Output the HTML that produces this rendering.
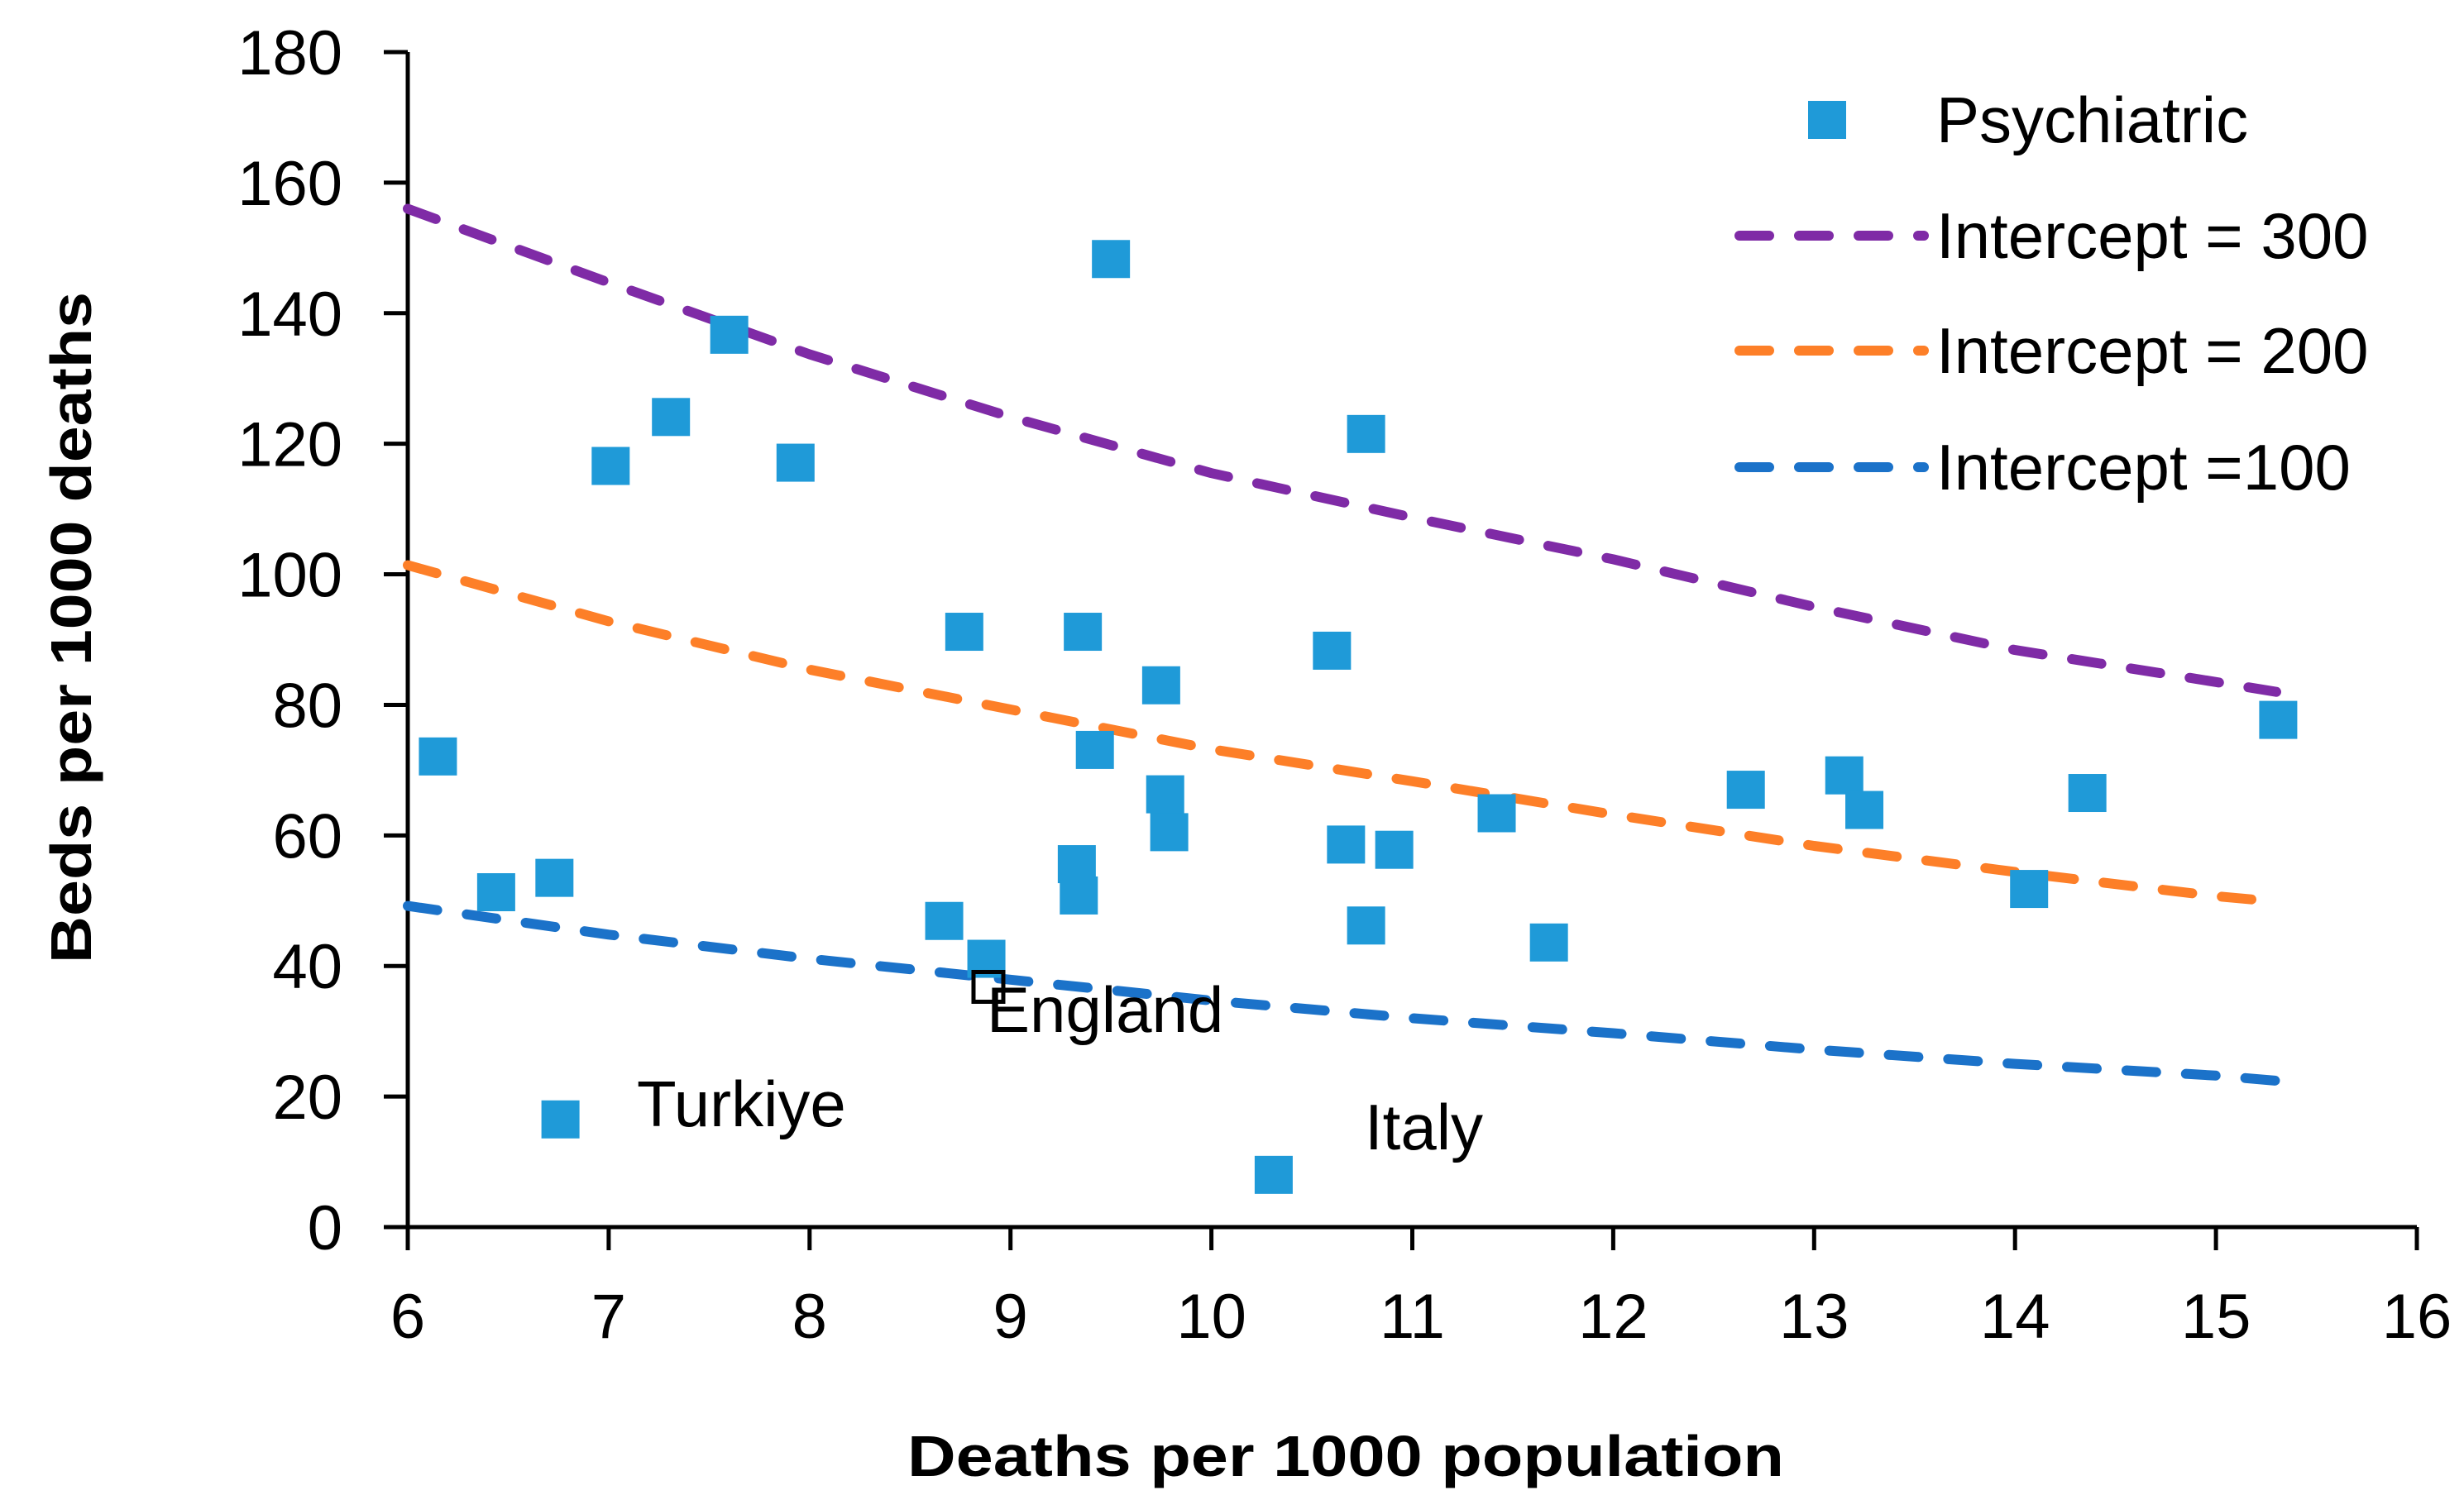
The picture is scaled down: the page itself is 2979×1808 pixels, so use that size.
<!DOCTYPE html>
<html><head><meta charset="utf-8"><style>
html,body{margin:0;padding:0;background:#fff;}
svg{display:block;}
text{font-family:"Liberation Sans",sans-serif;fill:#000;}
</style></head><body>
<svg id="chart" width="2979" height="1808" viewBox="0 0 2979 1808" xmlns="http://www.w3.org/2000/svg">
</svg>
<script>
const xTicks=[6,7,8,9,10,11,12,13,14,15,16];
const yTicks=[0,20,40,60,80,100,120,140,160,180];
const psychX=[6.15,6.44,6.73,6.76,7.01,7.31,7.60,7.93,8.67,8.77,8.88,9.33,9.34,9.36,9.42,9.50,9.75,9.77,9.79,10.31,10.60,10.67,10.77,10.77,10.91,11.42,11.68,12.66,13.15,13.25,14.07,14.36,15.31];
const psychY=[72.1,51.3,53.5,16.5,116.6,124.1,136.7,117.1,46.9,91.2,41.1,55.6,50.8,91.2,73.1,148.3,83.0,66.3,60.5,8.0,88.3,58.6,121.5,46.2,57.8,63.4,43.6,67.0,69.2,63.9,51.8,66.5,77.7];
const englandX=[8.89];
const englandY=[36.8];
const line300X=[6,7,8,9,10,11,12,13,14,15,15.3];
const line300Y=[156,144.7,133.7,124.1,115.5,108.7,102.3,95,88.4,83.5,82];
const line200X=[6,7,8,9,10,11,12,13,14,15,15.25];
const line200Y=[101.4,92.8,85.4,79.3,73.2,68.3,63.2,58.4,54.4,50.7,50];
const line100X=[6,7,8,9,10,11,12,13,14,15,15.35];
const line100Y=[49.2,44.8,41.1,37.9,34.7,32,29.7,27.2,25,23.2,22.3];

const svg=document.getElementById('chart');
const NS='http://www.w3.org/2000/svg';
const X0=493,X1=2922,Y0=1484,Y1=63;
function sx(v){return X0+(v-6)/(16-6)*(X1-X0);}
function sy(v){return Y0-(v-0)/180*(Y0-Y1);}
function mk(tag,attrs){const e=document.createElementNS(NS,tag);for(const k in attrs)e.setAttribute(k,attrs[k]);svg.appendChild(e);return e;}

let e=mk('line',{x1:X0,y1:Y0,x2:X1,y2:Y0,stroke:'#000','stroke-width':5});


e=mk('line',{x1:X0,y1:Y0+2,x2:X0,y2:Y1,stroke:'#000','stroke-width':5});



yTicks.forEach(v=>{
  let t=mk('line',{x1:464,y1:sy(v),x2:X0,y2:sy(v),stroke:'#000','stroke-width':5});
  
  
  let l=mk('text',{x:414,y:sy(v)+27,'font-size':76,'text-anchor':'end'});
  l.textContent=v;
  
  
});
xTicks.forEach(v=>{
  let t=mk('line',{x1:sx(v),y1:Y0,x2:sx(v),y2:1512,stroke:'#000','stroke-width':5});
  
  
  let l=mk('text',{x:sx(v),y:1618,'font-size':76,'text-anchor':'middle'});
  l.textContent=v;
  
  
});

function drawLine(xs,ys,color,name){
  let d=xs.map((x,i)=>(i?'L':'M')+sx(x).toFixed(1)+','+sy(ys[i]).toFixed(1)).join(' ');
  let p=mk('path',{d:d,fill:'none',stroke:color,'stroke-width':12,'stroke-dasharray':'36 36','stroke-linecap':'round','stroke-linejoin':'round'});
  
  
}
drawLine(line300X,line300Y,'#7f2ba6','intercept-300-line');
drawLine(line200X,line200Y,'#fd7f28','intercept-200-line');
drawLine(line100X,line100Y,'#1b72c9','intercept-100-line');

psychX.forEach((x,i)=>{
  let r=mk('rect',{x:sx(x)-23,y:sy(psychY[i])-23,width:46,height:46,fill:'#1f9ad8'});
  
  
});
englandX.forEach((x,i)=>{
  let r=mk('rect',{x:sx(x)-18,y:sy(englandY[i])-18,width:36,height:36,fill:'none',stroke:'#000','stroke-width':5});
  
  
});

function txt(x,y,s,size,extra){
  let t=mk('text',Object.assign({x:x,y:y,'font-size':size},extra||{}));
  t.textContent=s;
  return t;
}
let a=txt(1193,1248,'England',78);


a=txt(770,1362,'Turkiye',78);


a=txt(1650,1390,'Italy',78);



let lm=mk('rect',{x:2186,y:122,width:46,height:46,fill:'#1f9ad8'});


const legY=[285,424,565],legC=['#7f2ba6','#fd7f28','#1b72c9'];
legY.forEach((y,i)=>{
  let l=mk('line',{x1:2103,y1:y,x2:2326,y2:y,stroke:legC[i],'stroke-width':12,'stroke-dasharray':'36 36','stroke-linecap':'round'});
  
  
});
const legT=['Psychiatric','Intercept = 300','Intercept = 200','Intercept =100'];
const legTY=[172,312,451,592];
legT.forEach((s,i)=>{
  let t=txt(2341,legTY[i],s,78);
  
  
});

let xt=txt(1627,1785,'Deaths per 1000 population',70,{'font-weight':'bold','text-anchor':'middle',textLength:1060,lengthAdjust:'spacingAndGlyphs'});


let yt=txt(0,0,'Beds per 1000 deaths',70,{'font-weight':'bold','text-anchor':'middle',transform:'translate(110,759) rotate(-90)',textLength:812,lengthAdjust:'spacingAndGlyphs'});


</script>
</body></html>
